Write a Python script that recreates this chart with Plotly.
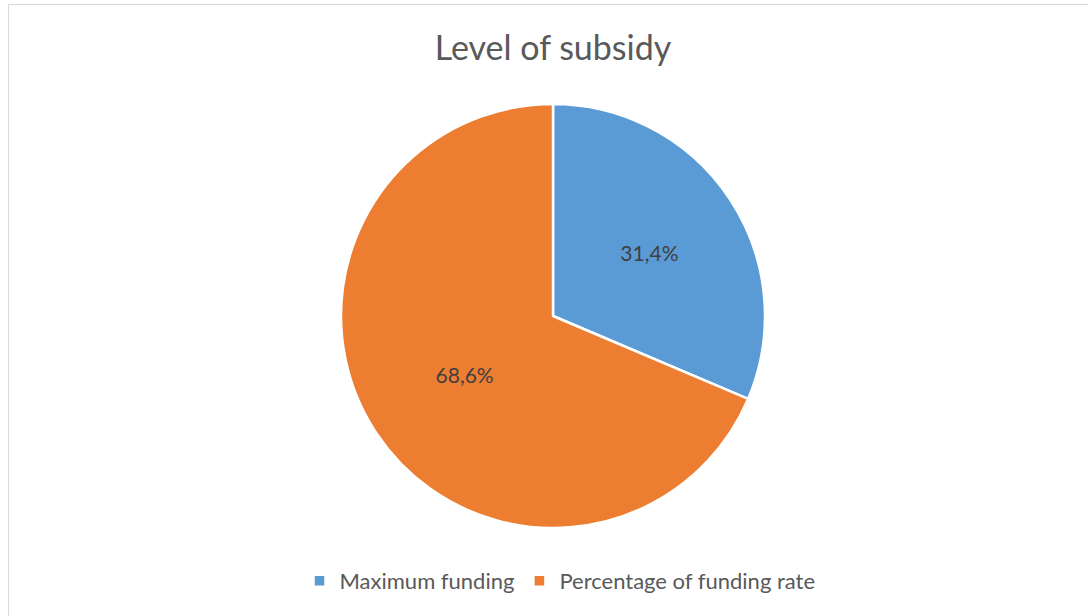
import plotly.graph_objects as go

# Share of the subsidy, in percent
categories = ["Maximum funding", "Percentage of funding rate"]
shares = [31.4, 68.6]
colors = ["#5B9BD5", "#ED7D31"]

W, H = 1088, 616
FONT = "Lato"

fig = go.Figure(
    go.Pie(
        labels=categories,
        values=shares,
        sort=False,
        direction="clockwise",
        rotation=0,
        marker=dict(colors=colors, line=dict(color="white", width=2.5)),
        texttemplate="%{value:.1f}%",
        textposition="inside",
        insidetextorientation="horizontal",
        textfont=dict(family=FONT, size=21, color="#404040"),
        hoverinfo="label+percent",
        domain=dict(x=[341 / W, 765 / W], y=[(H - 528) / H, (H - 104) / H]),
    )
)

fig.update_layout(
    width=W,
    height=H,
    margin=dict(l=0, r=0, t=0, b=0),
    paper_bgcolor="white",
    separators=",.",
    title=dict(
        text="Level of subsidy",
        x=553 / W,
        xanchor="center",
        y=1 - 48 / H,
        yanchor="middle",
        font=dict(family=FONT, size=34, color="#595959"),
    ),
    legend=dict(
        orientation="h",
        x=560 / W,
        xanchor="center",
        y=1 - 581 / H,
        yanchor="middle",
        font=dict(family=FONT, size=22, color="#595959"),
        itemwidth=30,
        tracegroupgap=0,
    ),
    shapes=[
        dict(
            type="rect",
            xref="paper",
            yref="paper",
            x0=8.5 / W,
            x1=1 + 20 / W,
            y0=-20 / H,
            y1=1 - 4.5 / H,
            line=dict(color="#D9D9D9", width=1),
            fillcolor="rgba(0,0,0,0)",
            layer="below",
        )
    ],
)

fig.write_html("out.html")
